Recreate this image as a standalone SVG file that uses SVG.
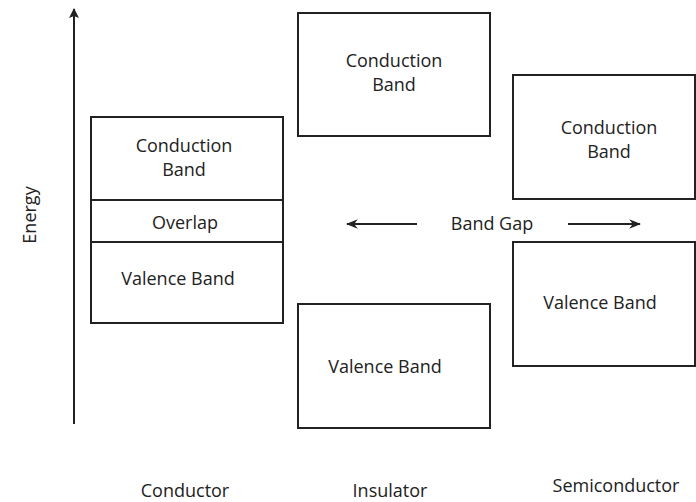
<svg xmlns="http://www.w3.org/2000/svg" width="696" height="502" viewBox="0 0 696 502">
<defs>
<style>
.box{fill:#fff;stroke:#222;stroke-width:2}
.t{font-family:"Open Sans","Liberation Sans",sans-serif;font-size:18px;fill:#222;text-anchor:middle}
.ln{stroke:#222;stroke-width:2;fill:none}
</style>
<marker id="ah" viewBox="0 0 10 10" refX="9" refY="5" markerWidth="6" markerHeight="6" orient="auto" markerUnits="strokeWidth">
<path d="M0,1 L10,5 L0,9 L3,5 z" fill="#222"/>
</marker>
<marker id="ah2" viewBox="0 0 10 10" refX="9" refY="5" markerWidth="5" markerHeight="5" orient="auto" markerUnits="strokeWidth">
<path d="M0,0 L10,5 L0,10 L2,5 z" fill="#222"/>
</marker>
</defs>
<rect width="696" height="502" fill="#fff"/>
<g id="connectors">
<line class="ln" x1="74" y1="424" x2="74" y2="9" marker-end="url(#ah2)"/>
<line class="ln" x1="417" y1="224" x2="347" y2="224" marker-end="url(#ah)"/>
<line class="ln" x1="568" y1="224" x2="640" y2="224" marker-end="url(#ah)"/>
</g>
<g id="energy"><text class="t" transform="translate(36,215) rotate(-90)">Energy</text></g>
<g id="conductor">
<rect class="box" x="91" y="117" width="192" height="206"/>
<line class="ln" x1="91" y1="200" x2="283" y2="200"/>
<line class="ln" x1="91" y1="242" x2="283" y2="242"/>
<text class="t" x="184" y="152">Conduction</text>
<text class="t" x="184" y="176">Band</text>
<text class="t" x="185" y="229">Overlap</text>
<text class="t" x="178" y="285">Valence Band</text>
<text class="t" x="185" y="497">Conductor</text>
</g>
<g id="insulator">
<rect class="box" x="298" y="13" width="192" height="123"/>
<text class="t" x="394" y="67">Conduction</text>
<text class="t" x="394" y="91">Band</text>
<rect class="box" x="298" y="304" width="192" height="124"/>
<text class="t" x="385" y="373">Valence Band</text>
<text class="t" x="390" y="497">Insulator</text>
</g>
<g id="bandgap"><text class="t" x="492" y="230">Band Gap</text></g>
<g id="semiconductor">
<rect class="box" x="513" y="75" width="182" height="124"/>
<text class="t" x="609" y="134">Conduction</text>
<text class="t" x="609" y="158">Band</text>
<rect class="box" x="513" y="242" width="182" height="124"/>
<text class="t" x="600" y="309">Valence Band</text>
<text class="t" x="616" y="492">Semiconductor</text>
</g>
</svg>
